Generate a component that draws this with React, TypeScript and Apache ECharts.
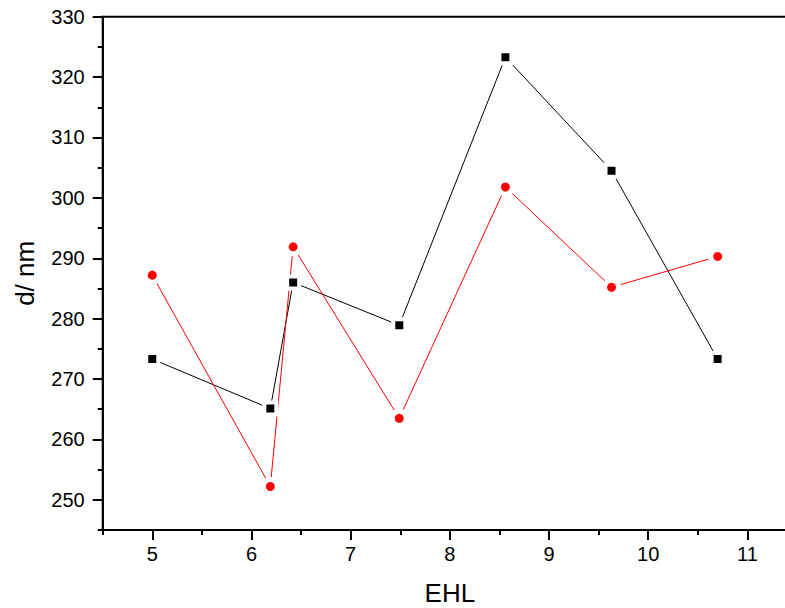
import React, { useEffect, useRef } from "react";
import * as echarts from "echarts";

const ehl = [5.0, 6.19, 6.42, 7.49, 8.56, 9.63, 10.7];
const blackSeries = [273.3, 265.1, 286.0, 278.9, 323.3, 304.5, 273.3];
const redSeries = [287.2, 252.2, 291.9, 263.5, 301.8, 285.2, 290.3];
const xMajorTicks = [5, 6, 7, 8, 9, 10, 11];
const xMinorTicks = [4.5, 5.5, 6.5, 7.5, 8.5, 9.5, 10.5, 11.5];
const yMajorTicks = [250, 260, 270, 280, 290, 300, 310, 320, 330];
const yMinorTicks = [245, 255, 265, 275, 285, 295, 305, 315, 325];

const FONT = "'Liberation Sans', Arial, sans-serif";

export default function App() {
  const ref = useRef<HTMLDivElement>(null);
  useEffect(() => {
    if (!ref.current) return;
    const chart = echarts.init(ref.current, null, { renderer: "svg" });
    const axisLineStyle = { color: "#000", width: 2 };
    chart.setOption({
      animation: false,
      backgroundColor: "#fff",
      grid: {
        left: 102.7,
        top: 16.7,
        bottom: 78,
        right: -12,
        outerBoundsMode: "none",
        containLabel: false,
        show: true,
        borderColor: "#000",
        borderWidth: 2,
        backgroundColor: "transparent",
      },
      xAxis: [
        {
          type: "value",
          position: "bottom",
          min: 4.5,
          max: 11.5,
          name: "EHL",
          nameLocation: "middle",
          nameGap: 50,
          nameTextStyle: { fontFamily: FONT, fontSize: 26, color: "#000" },
          axisLine: { show: true, onZero: false, lineStyle: axisLineStyle },
          axisTick: {
            show: true,
            inside: false,
            length: 10,
            lineStyle: axisLineStyle,
            customValues: xMajorTicks,
          },
          axisLabel: {
            customValues: xMajorTicks,
            fontFamily: FONT,
            fontSize: 20,
            color: "#000",
            margin: 14,
          },
          splitLine: { show: false },
        },
        {
          type: "value",
          position: "bottom",
          min: 4.5,
          max: 11.5,
          axisLine: { show: false, onZero: false },
          axisTick: {
            show: true,
            inside: false,
            length: 5,
            lineStyle: axisLineStyle,
            customValues: xMinorTicks,
          },
          axisLabel: { show: false },
          splitLine: { show: false },
        },
      ],
      yAxis: [
        {
          type: "value",
          position: "left",
          min: 245,
          max: 330,
          name: "d/ nm",
          nameLocation: "middle",
          nameGap: 65,
          nameTextStyle: { fontFamily: FONT, fontSize: 26, color: "#000" },
          axisLine: { show: true, onZero: false, lineStyle: axisLineStyle },
          axisTick: {
            show: true,
            inside: false,
            length: 10,
            lineStyle: axisLineStyle,
            customValues: yMajorTicks,
          },
          axisLabel: {
            customValues: yMajorTicks,
            fontFamily: FONT,
            fontSize: 20,
            color: "#000",
            margin: 18,
          },
          splitLine: { show: false },
        },
        {
          type: "value",
          position: "left",
          min: 245,
          max: 330,
          axisLine: { show: false, onZero: false },
          axisTick: {
            show: true,
            inside: false,
            length: 5,
            lineStyle: axisLineStyle,
            customValues: yMinorTicks,
          },
          axisLabel: { show: false },
          splitLine: { show: false },
        },
      ],
      series: [
        {
          type: "line",
          xAxisIndex: 0,
          yAxisIndex: 0,
          data: ehl.map((x, i) => [x, blackSeries[i]]),
          symbol: "rect",
          symbolSize: 12,
          showAllSymbol: true,
          lineStyle: { color: "#000", width: 1 },
          itemStyle: { color: "#000", borderColor: "#fff", borderWidth: 4 },
          emphasis: { disabled: true },
        },
        {
          type: "line",
          xAxisIndex: 0,
          yAxisIndex: 0,
          data: ehl.map((x, i) => [x, redSeries[i]]),
          symbol: "circle",
          symbolSize: 14,
          showAllSymbol: true,
          lineStyle: { color: "#ff0000", width: 1 },
          itemStyle: { color: "#ff0000", borderColor: "#fff", borderWidth: 5 },
          emphasis: { disabled: true },
        },
      ],
    });
    return () => chart.dispose();
  }, []);
  return (
    <div
      ref={ref}
      style={{ position: "fixed", left: 0, top: 0, width: 785, height: 608 }}
    />
  );
}
